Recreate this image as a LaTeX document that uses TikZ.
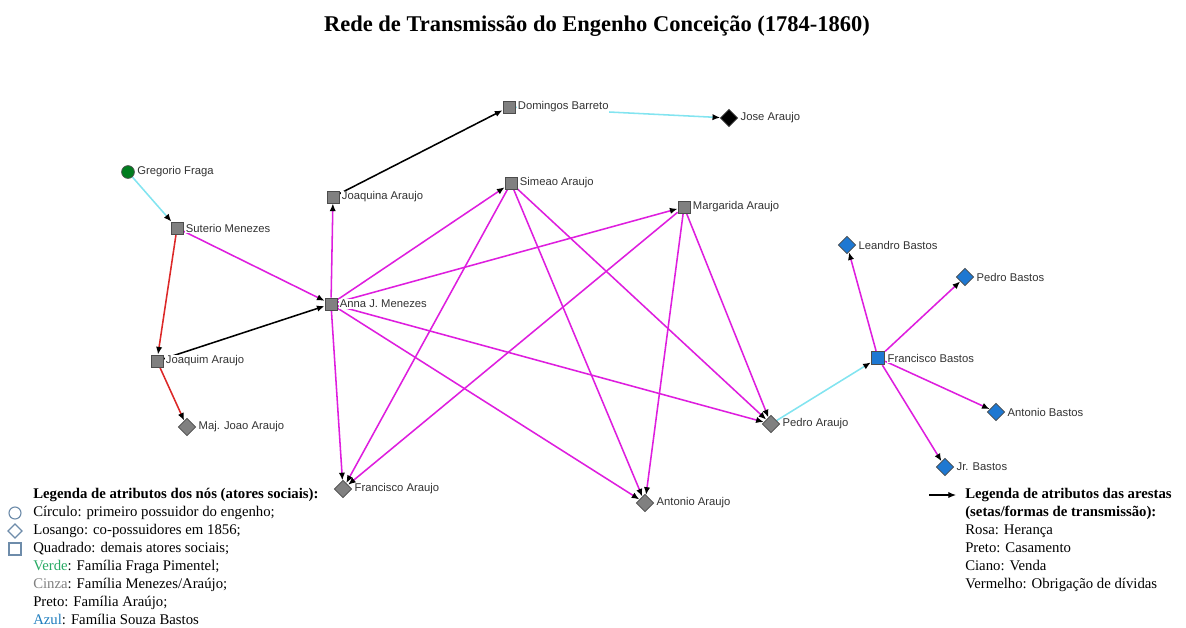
\documentclass[tikz,border=0pt]{standalone}
\usepackage{fontspec}
\setmainfont{Liberation Serif}
\setsansfont{Liberation Sans}
\usepackage{xcolor}
\usetikzlibrary{shapes.geometric,arrows.meta,positioning,backgrounds}

\definecolor{rosa}{RGB}{222,30,222}
\definecolor{ciano}{RGB}{130,228,240}
\definecolor{vermelho}{RGB}{220,40,40}
\definecolor{cinza}{RGB}{128,128,128}
\definecolor{azul}{RGB}{30,120,210}
\definecolor{verde}{RGB}{0,125,30}
\definecolor{legverde}{RGB}{40,170,100}
\definecolor{legazul}{RGB}{30,125,190}
\definecolor{legsimb}{RGB}{110,140,170}

\tikzset{
  ator/.style={draw=black!70, fill=cinza, inner sep=0pt, line width=0.5pt},
  quad/.style={ator, rectangle, minimum size=0.3cm},
  los/.style={ator, diamond, minimum size=0.44cm},
  circ/.style={ator, circle, minimum size=0.32cm, fill=verde},
  nome/.style={font=\sffamily\fontsize{8}{9.6}\selectfont, text=black!80, fill=white, inner sep=0.6pt, label distance=1pt},
  heranca/.style={draw=rosa, line width=1.1pt},
  casamento/.style={draw=black, line width=1.1pt},
  venda/.style={draw=ciano, line width=1.1pt},
  divida/.style={draw=vermelho, line width=1.1pt},
  titulo/.style={font=\bfseries\fontsize{16}{19}\selectfont},
  legenda/.style={font=\fontsize{10.5}{12.8}\selectfont, align=left, inner sep=0pt},
  simb/.style={draw=legsimb, line width=0.8pt, inner sep=0pt}
}

\begin{document}
\begin{tikzpicture}[x=0.025cm,y=-0.025cm,>={Latex[length=5.5pt,width=4.5pt,black]}]
    \useasboundingbox (0,0) rectangle (1186,627);
    \node[titulo] (titulo) at (597,26) {Rede de Transmissão do Engenho Conceição (1784-1860)};

    % atores sociais
    \node[circ, label={[nome]right:Gregorio Fraga}] (gf) at (128,172) {};
    \node[quad, label={[nome]right:Suterio Menezes}] (sm) at (177,228) {};
    \node[quad, label={[nome]right:Joaquim Araujo}] (jq) at (157,361) {};
    \node[los, label={[nome]right:Maj. Joao Araujo}] (mj) at (187,427) {};
    \node[quad, label={[nome]right:Anna J. Menezes}] (am) at (331,304) {};
    \node[quad, label={[nome]right:Joaquina Araujo}] (jn) at (333,197) {};
    \node[quad, label={[nome]right:Domingos Barreto}] (db) at (509,107) {};
    \node[los, fill=black, label={[nome]right:Jose Araujo}] (ja) at (729,118) {};
    \node[quad, label={[nome]right:Simeao Araujo}] (sa) at (511,183) {};
    \node[quad, label={[nome]right:Margarida Araujo}] (ma) at (684,207) {};
    \node[los, label={[nome]right:Francisco Araujo}] (fa) at (343,489) {};
    \node[los, label={[nome]right:Antonio Araujo}] (aa) at (645,503) {};
    \node[los, label={[nome]right:Pedro Araujo}] (pa) at (771,424) {};
    \node[quad, fill=azul, minimum size=0.34cm, label={[nome]right:Francisco Bastos}] (fb) at (878,358) {};
    \node[los, fill=azul, label={[nome]right:Leandro Bastos}] (lb) at (847,245) {};
    \node[los, fill=azul, label={[nome]right:Pedro Bastos}] (pb) at (965,277) {};
    \node[los, fill=azul, label={[nome]right:Antonio Bastos}] (ab) at (996,412) {};
    \node[los, fill=azul, label={[nome]right:Jr. Bastos}] (jb) at (945,467) {};

    % formas de transmissao
    \begin{scope}[on background layer]
    \path[->]
        (gf) edge[venda] (sm)
        (sm) edge[divida] (jq)
        (jq) edge[divida] (mj)
        (sm) edge[heranca] (am)
        (jq) edge[casamento] (am)
        (am) edge[heranca] (jn)
        (jn) edge[casamento] (db)
        (db) edge[venda] (ja)
        (am) edge[heranca] (sa)
        (am) edge[heranca] (ma)
        (am) edge[heranca] (fa)
        (am) edge[heranca] (aa)
        (am) edge[heranca] (pa)
        (sa) edge[heranca] (fa)
        (sa) edge[heranca] (aa)
        (sa) edge[heranca] (pa)
        (ma) edge[heranca] (fa)
        (ma) edge[heranca] (aa)
        (ma) edge[heranca] (pa)
        (pa) edge[venda] (fb)
        (fb) edge[heranca] (lb)
        (fb) edge[heranca] (pb)
        (fb) edge[heranca] (ab)
        (fb) edge[heranca] (jb);
    \end{scope}

    % legenda dos nos
    \node[legenda, anchor=north west] (legnos) at (33,488) {%
        \textbf{Legenda de atributos dos nós (atores sociais):}\\
        Círculo: primeiro possuidor do engenho;\\
        Losango: co-possuidores em 1856;\\
        Quadrado: demais atores sociais;\\
        {\color{legverde}Verde}: Família Fraga Pimentel;\\
        {\color{cinza}Cinza}: Família Menezes/Araújo;\\
        Preto: Família Araújo;\\
        {\color{legazul}Azul}: Família Souza Bastos};
    \node[simb, circle, minimum size=0.3cm] (lgcirc) at (15,513) {};
    \node[simb, diamond, minimum size=0.36cm] (lglos) at (15,531) {};
    \node[simb, rectangle, minimum size=0.3cm] (lgquad) at (15,549) {};

    % legenda das arestas
    \coordinate (setaa) at (929,495);
    \coordinate (setab) at (956,495);
    \draw[->, casamento, line width=0.8pt] (setaa) -- (setab);
    \node[legenda, anchor=north west] (legarestas) at (965,488) {%
        \textbf{Legenda de atributos das arestas}\\
        \textbf{(setas/formas de transmissão):}\\
        Rosa: Herança\\
        Preto: Casamento\\
        Ciano: Venda\\
        Vermelho: Obrigação de dívidas};
\end{tikzpicture}
\end{document}
